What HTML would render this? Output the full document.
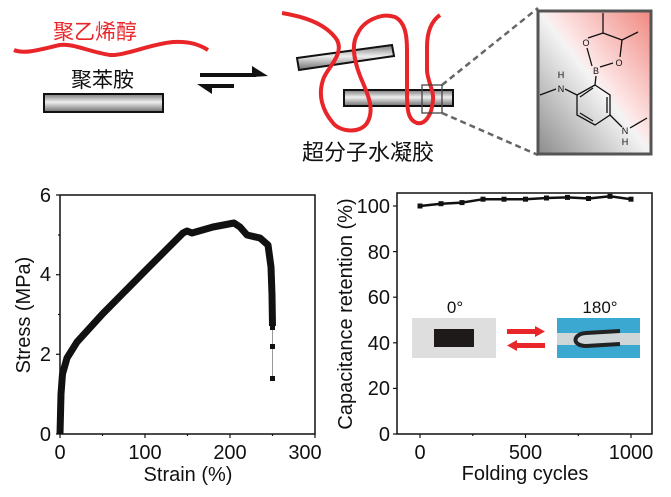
<!DOCTYPE html>
<html><head><meta charset="utf-8"><style>
html,body{margin:0;padding:0;background:#fff;}
svg{display:block;font-family:"Liberation Sans","Noto Sans CJK SC",sans-serif;}
</style></head><body>
<svg width="671" height="497" viewBox="0 0 671 497" xmlns="http://www.w3.org/2000/svg">
<defs>
<linearGradient id="rod" x1="0" y1="0" x2="0" y2="1">
<stop offset="0" stop-color="#7a7a7a"/><stop offset="0.45" stop-color="#eeeeee"/><stop offset="1" stop-color="#6e6e6e"/>
</linearGradient>
<linearGradient id="bg" x1="0" y1="1" x2="1" y2="0">
<stop offset="0" stop-color="#8c8c8c"/><stop offset="0.5" stop-color="#f4f4f4"/><stop offset="0.55" stop-color="#fde8e8"/><stop offset="1" stop-color="#f08880"/>
</linearGradient>
</defs>
<text x="53" y="39" font-size="21" fill="#e8262a">聚乙烯醇</text>
<path d="M14,50 C25,55 45,48 60,45 C72,43 90,52 110,55 C125,56 150,44 173,42 C190,41 200,45 208,50" stroke="#e8262a" stroke-width="4" fill="none"/>
<text x="71" y="87" font-size="21" fill="#111">聚苯胺</text>
<rect x="44" y="94" width="119" height="18" fill="url(#rod)" stroke="#111" stroke-width="2"/>
<rect x="200" y="73" width="56" height="4" fill="#111"/>
<polygon points="252,66 268,76 252,77" fill="#111"/>
<rect x="208" y="84" width="26" height="4" fill="#111"/>
<polygon points="197,84 212,84 212,94" fill="#111"/>
<polygon points="297,58 392,45 394,56 299,70" fill="url(#rod)" stroke="#111" stroke-width="2"/>
<rect x="344" y="90" width="109" height="16" fill="url(#rod)" stroke="#111" stroke-width="2"/>
<path d="M282,13 C300,16 325,22 337,40 C345,55 325,70 323,80 C318,95 322,110 333,123 C340,132 360,134 367,123 C375,110 368,95 363,83 C355,65 350,45 358,33 C363,22 380,12 395,17 C405,22 407,35 407,50 L407,93 C407,110 408,120 417,123 C425,125 432,115 433,100 C434,90 427,80 427,70 L427,47 C427,35 430,22 440,15" stroke="#e8262a" stroke-width="4" fill="none"/>
<rect x="422" y="85" width="20" height="28" fill="none" stroke="#444" stroke-width="1.3"/>
<line x1="442" y1="85" x2="538" y2="8" stroke="#666" stroke-width="2.5" stroke-dasharray="6,4"/>
<line x1="442" y1="113" x2="538" y2="155" stroke="#666" stroke-width="2.5" stroke-dasharray="6,4"/>
<text x="302" y="160" font-size="22" fill="#111">超分子水凝胶</text>
<rect x="538" y="11" width="113" height="143" fill="url(#bg)" stroke="#555" stroke-width="3"/>
<g stroke="#111" stroke-width="1.3" fill="none">
<polyline points="595,85 610,95 610,115 595,125 577,115 577,95 595,85"/>
<line x1="607" y1="97" x2="607" y2="113"/><line x1="593" y1="121" x2="580" y2="113"/><line x1="580" y1="97" x2="593" y2="88"/>
<line x1="595" y1="85" x2="596" y2="76"/>
<line x1="577" y1="95" x2="565" y2="89"/><line x1="556" y1="89" x2="540" y2="95"/>
<line x1="610" y1="115" x2="622" y2="127"/><line x1="630" y1="128" x2="647" y2="118"/>
<line x1="592" y1="66" x2="587" y2="48"/><line x1="600" y1="67" x2="613" y2="63"/>
<line x1="588" y1="38" x2="603" y2="33"/><line x1="603" y1="33" x2="622" y2="40"/><line x1="622" y1="40" x2="620" y2="57"/>
<line x1="603" y1="33" x2="603" y2="13"/><line x1="622" y1="40" x2="638" y2="32"/>
</g>
<g font-size="9" fill="#111" text-anchor="middle">
<text x="596" y="74">B</text><text x="586" y="46">O</text><text x="619" y="66">O</text>
<text x="561" y="92">N</text><text x="561" y="78">H</text>
<text x="625" y="134">N</text><text x="625" y="145">H</text>
</g>
<rect x="60" y="195" width="255" height="239" fill="none" stroke="#111" stroke-width="1.5"/>
<g stroke="#111" stroke-width="1.2">
<line x1="56" y1="434" x2="60" y2="434"/><line x1="56" y1="354.3" x2="60" y2="354.3"/><line x1="56" y1="274.7" x2="60" y2="274.7"/><line x1="56" y1="195" x2="60" y2="195"/>
<line x1="58" y1="394" x2="60" y2="394"/><line x1="58" y1="314.5" x2="60" y2="314.5"/><line x1="58" y1="235" x2="60" y2="235"/>
<line x1="60" y1="434" x2="60" y2="438"/><line x1="145" y1="434" x2="145" y2="438"/><line x1="230" y1="434" x2="230" y2="438"/><line x1="315" y1="434" x2="315" y2="438"/>
<line x1="102.5" y1="434" x2="102.5" y2="436"/><line x1="187.5" y1="434" x2="187.5" y2="436"/><line x1="272.5" y1="434" x2="272.5" y2="436"/>
</g>
<g font-size="20" fill="#111">
<text x="51" y="441" text-anchor="end">0</text><text x="51" y="361" text-anchor="end">2</text><text x="51" y="281" text-anchor="end">4</text><text x="51" y="202" text-anchor="end">6</text>
<text x="60" y="459" text-anchor="middle">0</text><text x="145" y="459" text-anchor="middle">100</text><text x="230" y="459" text-anchor="middle">200</text><text x="305" y="459" text-anchor="middle">300</text>
<text x="188" y="481" text-anchor="middle">Strain (%)</text>
<text transform="translate(30,315) rotate(-90)" text-anchor="middle">Stress (MPa)</text>
</g>
<path d="M60,434 L61,394 L62.5,374 L67,358 L77,342 L102.5,314 L145,271 L183,233 L187,231 L192,233 L213,227 L234,223 L240,227 L247,235 L260,238 L268,245 L271,267 L272,295 L272.5,326" stroke="#111" stroke-width="7" fill="none" stroke-linejoin="round"/>
<line x1="272.5" y1="326" x2="272.5" y2="380" stroke="#999" stroke-width="1"/>
<g fill="#111"><rect x="270" y="325" width="5" height="5"/><rect x="270" y="344" width="5" height="5"/><rect x="270" y="376" width="5" height="5"/></g>
<rect x="397" y="193" width="255" height="241" fill="none" stroke="#111" stroke-width="1.5"/>
<g stroke="#111" stroke-width="1.2">
<line x1="393" y1="434" x2="397" y2="434"/><line x1="393" y1="388.4" x2="397" y2="388.4"/><line x1="393" y1="342.8" x2="397" y2="342.8"/><line x1="393" y1="297.2" x2="397" y2="297.2"/><line x1="393" y1="251.6" x2="397" y2="251.6"/><line x1="393" y1="206" x2="397" y2="206"/>
<line x1="420" y1="434" x2="420" y2="438"/><line x1="525.5" y1="434" x2="525.5" y2="438"/><line x1="631" y1="434" x2="631" y2="438"/>
<line x1="472.8" y1="434" x2="472.8" y2="436"/><line x1="578.3" y1="434" x2="578.3" y2="436"/>
</g>
<g font-size="20" fill="#111">
<text x="390" y="441" text-anchor="end">0</text><text x="390" y="395" text-anchor="end">20</text><text x="390" y="350" text-anchor="end">40</text><text x="390" y="304" text-anchor="end">60</text><text x="390" y="259" text-anchor="end">80</text><text x="390" y="213" text-anchor="end">100</text>
<text x="420" y="459" text-anchor="middle">0</text><text x="525.5" y="459" text-anchor="middle">500</text><text x="631" y="459" text-anchor="middle">1000</text>
<text x="525" y="480" text-anchor="middle">Folding cycles</text>
<text transform="translate(352,314) rotate(-90)" text-anchor="middle">Capacitance retention (%)</text>
</g>
<polyline points="420,206 441,203.7 462,202.6 483,199.2 504,199.2 525.5,199.2 546.6,198 567.7,197.4 588.8,198.5 610,196.3 631,199.2" stroke="#111" stroke-width="2.5" fill="none"/>
<g fill="#111">
<rect x="417.5" y="203.5" width="5" height="5"/><rect x="438.5" y="201.2" width="5" height="5"/><rect x="459.5" y="200.1" width="5" height="5"/><rect x="480.5" y="196.7" width="5" height="5"/><rect x="501.5" y="196.7" width="5" height="5"/><rect x="523" y="196.7" width="5" height="5"/><rect x="544" y="195.5" width="5" height="5"/><rect x="565" y="194.9" width="5" height="5"/><rect x="586" y="196" width="5" height="5"/><rect x="607.5" y="193.8" width="5" height="5"/><rect x="628.5" y="196.7" width="5" height="5"/>
</g>
<rect x="412" y="318" width="84" height="40" fill="#dedede"/>
<rect x="434" y="329" width="40" height="18" fill="#1e1a1a"/>
<text x="455" y="313" font-size="17" text-anchor="middle" fill="#111">0°</text>
<rect x="507" y="329" width="30" height="5" fill="#e8262a"/><polygon points="535,326 545,331.5 535,337" fill="#e8262a"/>
<rect x="515" y="343" width="30" height="5" fill="#e8262a"/><polygon points="517,340 507,345.5 517,351" fill="#e8262a"/>
<rect x="557" y="318" width="83" height="40" fill="#3aa8d0"/>
<rect x="557" y="333" width="83" height="12" fill="#cfd6d8"/>
<path d="M620,331 L586,333 C572,334 572,346 586,346 L620,344" stroke="#222" stroke-width="4" fill="none"/>
<text x="600" y="313" font-size="17" text-anchor="middle" fill="#111">180°</text>
</svg>
</body></html>
